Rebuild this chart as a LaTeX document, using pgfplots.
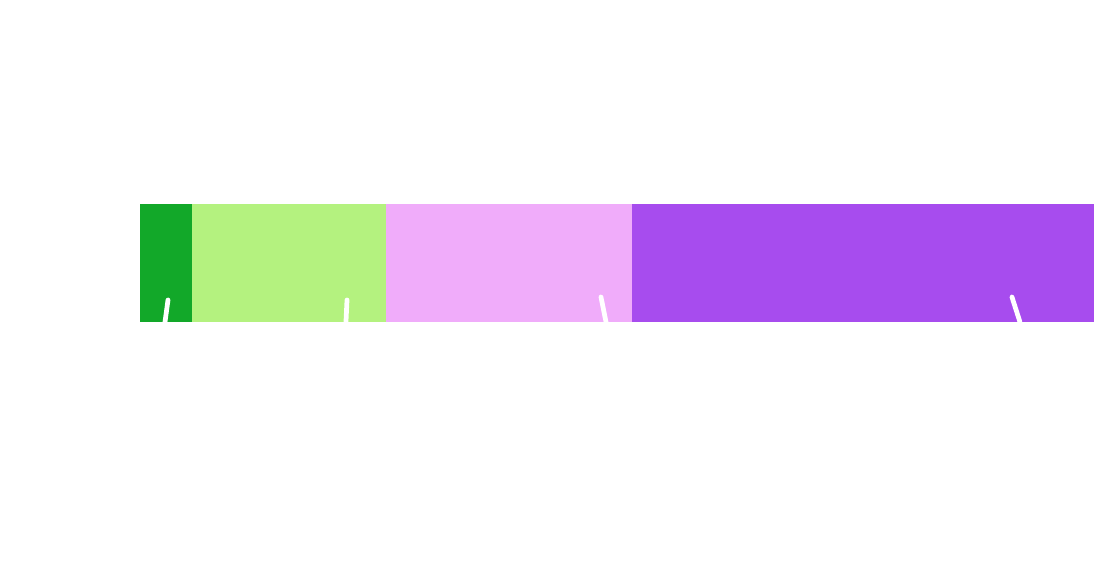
\documentclass[border=0pt]{standalone}
\usepackage{pgfplots}
\pgfplotsset{compat=1.18}
\definecolor{segA}{HTML}{12A829}
\definecolor{segB}{HTML}{B4F27F}
\definecolor{segC}{HTML}{F0ACFA}
\definecolor{segD}{HTML}{A74CEE}
\begin{document}
\begin{tikzpicture}
% page frame: 1116 x 574 px at 0.1 mm per px
\path (-1.40cm,0) rectangle (9.76cm,5.74cm);
\begin{axis}[
    at={(0,0)}, anchor=south west,
    scale only axis,
    width=9.54cm, height=5.74cm,
    xmin=0, xmax=100, ymin=0, ymax=1,
    hide axis,
    xbar stacked,
    bar width=1.18cm,
    bar shift=0pt,
    clip=false,
]
\addplot[fill=segA, draw=none] coordinates {(5.45,0.5418)};
\addplot[fill=segB, draw=none] coordinates {(20.34,0.5418)};
\addplot[fill=segC, draw=none] coordinates {(25.79,0.5418)};
\addplot[fill=segD, draw=none] coordinates {(48.42,0.5418)};
\end{axis}
\begin{axis}[
    at={(0,0)}, anchor=south west,
    scale only axis,
    width=9.54cm, height=5.74cm,
    xmin=0, xmax=100, ymin=0, ymax=1,
    hide axis,
]
% leader-line stubs (white)
\addplot[white, line width=1.35pt, line cap=round, no marks] coordinates {(2.935,0.4774) (2.621,0.4390)};
\addplot[white, line width=1.35pt, line cap=round, no marks] coordinates {(21.70,0.4774) (21.59,0.4390)};
\addplot[white, line width=1.35pt, line cap=round, no marks] coordinates {(48.32,0.4826) (48.85,0.4390)};
\addplot[white, line width=1.35pt, line cap=round, no marks] coordinates {(91.40,0.4826) (92.24,0.4390)};
\end{axis}
\end{tikzpicture}
\end{document}
